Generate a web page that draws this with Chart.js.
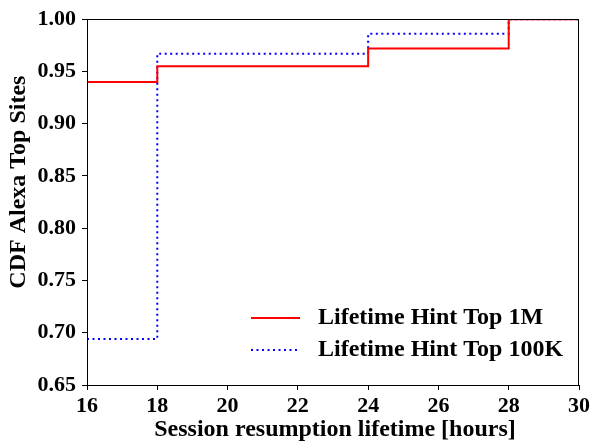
<!DOCTYPE html>
<html>
<head>
<meta charset="utf-8">
<script src="https://cdn.jsdelivr.net/npm/chart.js@4"></script>
<style>
  html, body { margin: 0; padding: 0; background: #fff; }
  #wrap { width: 593px; height: 444px; }
</style>
</head>
<body>
<div id="wrap"><canvas id="chart" width="593" height="444"></canvas></div>
<script>
// step points (hours, CDF)
const hours = [16, 18, 24, 28, 30];
const cdfTop1M = [0.940, 0.955, 0.972, 1.000, 1.000];
const cdfTop100K = [0.694, 0.967, 0.986, 1.000, 1.000];
const seriesLabels = ['Lifetime Hint Top 1M', 'Lifetime Hint Top 100K'];
const xTicks = [16, 18, 20, 22, 24, 26, 28, 30];
const yTicks = [0.65, 0.70, 0.75, 0.80, 0.85, 0.90, 0.95, 1.00];

const FONT = '"Liberation Serif", "Times New Roman", serif';

function toPoints(xs, ys) {
    return xs.map((x, i) => ({ x: x, y: ys[i] }));
}

// frame, axis titles and legend
const decorPlugin = {
    id: 'decor',
    afterDraw(chart) {
        const ctx = chart.ctx;
        const a = chart.chartArea;
        ctx.save();
        ctx.strokeStyle = '#000';
        ctx.lineWidth = 1;
        ctx.strokeRect(Math.round(a.left) + 0.5, Math.round(a.top) + 0.5,
            Math.round(a.right - a.left) - 1, Math.round(a.bottom - a.top));

        ctx.fillStyle = '#000';
        ctx.font = 'bold 24px ' + FONT;
        ctx.textAlign = 'center';
        ctx.textBaseline = 'middle';
        ctx.fillText('Session resumption lifetime [hours]', (a.left + a.right) / 2 + 2, 430);
        ctx.save();
        ctx.translate(19, (a.top + a.bottom) / 2 - 20);
        ctx.rotate(-Math.PI / 2);
        ctx.fillText('CDF Alexa Top Sites', 0, 0);
        ctx.restore();

        // legend
        const rows = [318, 350];
        chart.data.datasets.forEach((ds, i) => {
            const y = rows[i];
            ctx.beginPath();
            ctx.strokeStyle = ds.borderColor;
            ctx.lineWidth = ds.borderWidth;
            ctx.setLineDash(ds.borderDash || []);
            ctx.moveTo(251, y);
            ctx.lineTo(300, y);
            ctx.stroke();
            ctx.setLineDash([]);
            ctx.fillStyle = '#000';
            ctx.textAlign = 'left';
            ctx.font = 'bold 24px ' + FONT;
            ctx.fillText(ds.label, 318, y);
        });
        ctx.restore();
    }
};

new Chart(document.getElementById('chart'), {
    type: 'line',
    data: {
        datasets: [
            {
                label: seriesLabels[0],
                data: toPoints(hours, cdfTop1M),
                borderColor: '#ff0000',
                borderWidth: 2,
                stepped: 'before',
                pointRadius: 0,
                fill: false
            },
            {
                label: seriesLabels[1],
                data: toPoints(hours, cdfTop100K),
                borderColor: '#0000ff',
                borderWidth: 2,
                borderDash: [2, 3.5],
                stepped: 'before',
                pointRadius: 0,
                fill: false
            }
        ]
    },
    options: {
        responsive: false,
        animation: false,
        layout: { padding: { top: 16, right: 10, left: 0, bottom: 0 } },
        plugins: { legend: { display: false }, tooltip: { enabled: false } },
        scales: {
            x: {
                type: 'linear',
                min: 16, max: 30,
                afterBuildTicks(scale) { scale.ticks = xTicks.map(v => ({ value: v })); },
                afterFit(scale) { scale.height = 59; },
                grid: { drawOnChartArea: false, drawTicks: true, tickLength: 5, tickColor: '#000' },
                border: { display: true, color: '#000', width: 1 },
                ticks: {
                    color: '#000', padding: 3, maxRotation: 0,
                    font: { family: FONT, size: 22, weight: 'bold' }
                }
            },
            y: {
                type: 'linear',
                min: 0.65, max: 1.0,
                afterBuildTicks(scale) { scale.ticks = yTicks.map(v => ({ value: v })); },
                afterFit(scale) { scale.width = 87; },
                grid: { drawOnChartArea: false, drawTicks: true, tickLength: 5, tickColor: '#000' },
                border: { display: true, color: '#000', width: 1 },
                ticks: {
                    color: '#000', padding: 6,
                    font: { family: FONT, size: 22, weight: 'bold' },
                    callback: v => v.toFixed(2)
                }
            }
        }
    },
    plugins: [decorPlugin]
});
</script>
</body>
</html>
